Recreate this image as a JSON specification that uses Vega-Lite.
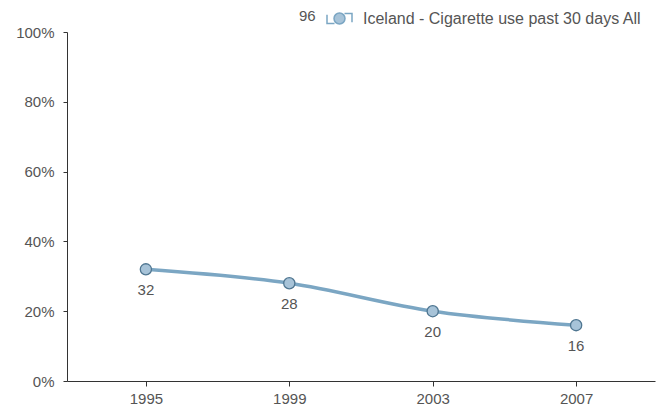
{
  "$schema": "https://vega.github.io/schema/vega-lite/v6.json",
  "width": 588,
  "height": 349,
  "autosize": {"type": "none"},
  "padding": {"left": 67, "top": 32, "right": 7, "bottom": 28},
  "background": "white",
  "config": {
    "view": {"stroke": null},
    "font": "Liberation Sans",
    "axis": {"labelFont": "Liberation Sans", "labelFontSize": 15, "labelColor": "#555555", "domainColor": "#333333", "tickColor": "#333333", "grid": false, "title": null}
  },
  "data": {"values": [
    {"year": "1995", "value": 32, "series": "Iceland - Cigarette use past 30 days All"},
    {"year": "1999", "value": 28, "series": "Iceland - Cigarette use past 30 days All"},
    {"year": "2003", "value": 20, "series": "Iceland - Cigarette use past 30 days All"},
    {"year": "2007", "value": 16, "series": "Iceland - Cigarette use past 30 days All"}
  ]},
  "encoding": {
    "x": {"field": "year", "type": "ordinal", "scale": {"type": "point", "padding": 0.55}, "axis": {"labelAngle": 0, "tickSize": 5, "labelPadding": 5}},
    "y": {"field": "value", "type": "quantitative", "scale": {"domain": [0, 100]}, "axis": {"values": [0, 20, 40, 60, 80, 100], "labelExpr": "datum.value + '%'", "tickSize": 4, "labelPadding": 9}}
  },
  "layer": [
    {
      "mark": {"type": "line", "interpolate": "monotone", "strokeWidth": 3.5},
      "encoding": {
        "color": {"field": "series", "type": "nominal", "scale": {"range": ["#7ba6c3"]},
          "legend": {"title": "96", "titleOrient": "left", "titleFontSize": 15, "titleFontWeight": "normal", "titleColor": "#555555", "titleFont": "Liberation Sans", "titlePadding": 10,
            "labelFontSize": 16, "labelColor": "#555555", "labelFont": "Liberation Sans", "labelLimit": 500, "labelOffset": 10,
            "orient": "none", "legendX": 232, "legendY": -27, "symbolSize": 625,
            "symbolType": "M-1,-0.3 L-1,0.4 L-0.4,0.4 L-1,0.4 Z M0.4,-0.4 L1,-0.4 L1,0.3 L1,-0.4 Z M0.44,0 A0.44,0.44 0 1,1 -0.44,0 A0.44,0.44 0 1,1 0.44,0 Z",
            "symbolFillColor": "#a7c3d8", "symbolStrokeColor": "#5b84a0", "symbolStrokeWidth": 1.5}}
      }
    },
    {
      "mark": {"type": "point", "filled": true, "size": 125, "fill": "#a7c3d8", "stroke": "#4f7691", "strokeWidth": 1.3, "opacity": 1}
    },
    {
      "mark": {"type": "text", "dy": 21, "fontSize": 15, "color": "#555555", "font": "Liberation Sans"},
      "encoding": {"text": {"field": "value", "type": "quantitative"}}
    }
  ]
}
